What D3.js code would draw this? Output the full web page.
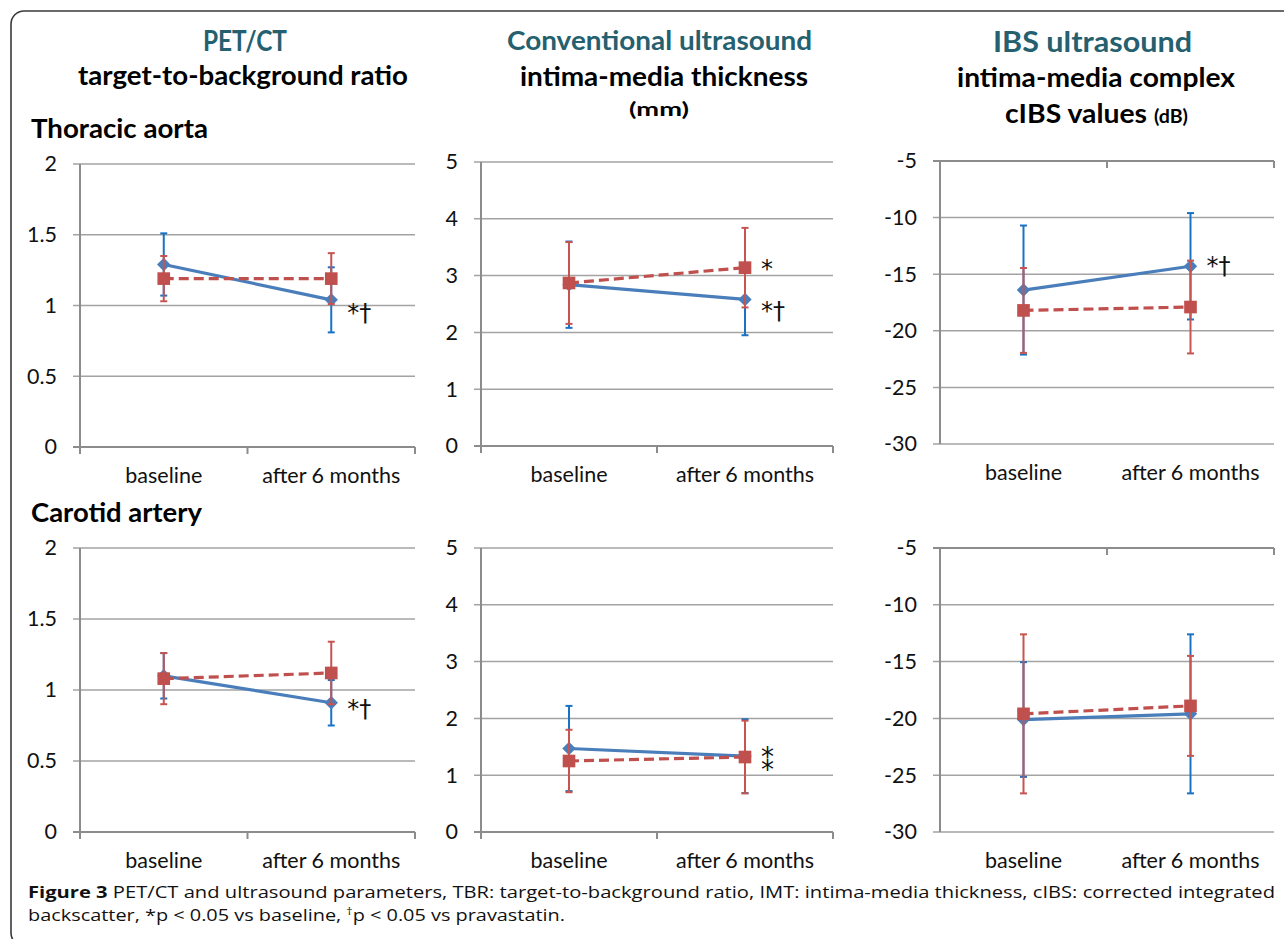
<!DOCTYPE html>
<html><head><meta charset="utf-8">
<script src="https://cdn.jsdelivr.net/npm/d3@7"></script>
<style>body{margin:0;background:#fff} svg{display:block}</style>
</head><body>
<svg id="c" width="1284" height="939"></svg>
<script>
// ---------------- DATA ----------------
const categories = ["baseline", "after 6 months"];

// PET/CT TBR, thoracic aorta
const tbrAortaBlue = [1.29, 1.04], tbrAortaBlueSD = [0.22, 0.23];
const tbrAortaRed  = [1.19, 1.19], tbrAortaRedSD  = [0.16, 0.18];
// IMT (mm), thoracic aorta
const imtAortaBlue = [2.84, 2.58], imtAortaBlueSD = [0.76, 0.63];
const imtAortaRed  = [2.87, 3.14], imtAortaRedSD  = [0.72, 0.70];
// cIBS (dB), thoracic aorta
const ibsAortaBlue = [-16.4, -14.3], ibsAortaBlueSD = [5.7, 4.7];
const ibsAortaRed  = [-18.2, -17.9], ibsAortaRedSD  = [3.75, 4.1];
// PET/CT TBR, carotid artery
const tbrCarotidBlue = [1.10, 0.91], tbrCarotidBlueSD = [0.16, 0.16];
const tbrCarotidRed  = [1.08, 1.12], tbrCarotidRedSD  = [0.18, 0.22];
// IMT (mm), carotid artery
const imtCarotidBlue = [1.47, 1.335], imtCarotidBlueSD = [0.75, 0.65];
const imtCarotidRed  = [1.25, 1.32], imtCarotidRedSD  = [0.55, 0.64];
// cIBS (dB), carotid artery
const ibsCarotidBlue = [-20.1, -19.6], ibsCarotidBlueSD = [5.05, 7.0];
const ibsCarotidRed  = [-19.6, -18.9], ibsCarotidRedSD  = [7.0, 4.4];

const ticksTBR = [0, 0.5, 1, 1.5, 2];
const ticksIMT = [0, 1, 2, 3, 4, 5];
const ticksIBS = [-30, -25, -20, -15, -10, -5];

// significance marks: [series, text]
const annTbrAorta   = [["blue", "*†"]];
const annImtAorta   = [["red", "*"], ["blue", "*†"]];
const annIbsAorta   = [["blue", "*†"]];
const annTbrCarotid = [["blue", "*†"]];
const annImtCarotid = [["red", "⁑"]];
const annIbsCarotid = [];

// ---------------- LAYOUT ----------------
const svg = d3.select("#c");
const FONT = "Lato, 'Open Sans', sans-serif";
const ANNFONT = "'DejaVu Sans', sans-serif";
const BLUE = "#4a7ebb", BLUE_ERR = "#1a72c4", RED = "#c0504d", RED_ERR = "#c65552";

const panels = [
  {blue: tbrAortaBlue, blueSD: tbrAortaBlueSD, red: tbrAortaRed, redSD: tbrAortaRedSD, ticks: ticksTBR,
   left: 80, right: 415, top: 164, bottom: 447, axisTop: false, ann: annTbrAorta, annDy: [21], annSize: [24]},
  {blue: imtAortaBlue, blueSD: imtAortaBlueSD, red: imtAortaRed, redSD: imtAortaRedSD, ticks: ticksIMT,
   left: 481, right: 833, top: 162, bottom: 446, axisTop: false, ann: annImtAorta, annDy: [9, 20], annSize: [24, 24]},
  {blue: ibsAortaBlue, blueSD: ibsAortaBlueSD, red: ibsAortaRed, redSD: ibsAortaRedSD, ticks: ticksIBS,
   left: 940, right: 1274, top: 161, bottom: 444, axisTop: true, ann: annIbsAorta, annDy: [8], annSize: [24]},
  {blue: tbrCarotidBlue, blueSD: tbrCarotidBlueSD, red: tbrCarotidRed, redSD: tbrCarotidRedSD, ticks: ticksTBR,
   left: 80, right: 415, top: 548, bottom: 832, axisTop: false, ann: annTbrCarotid, annDy: [14], annSize: [24]},
  {blue: imtCarotidBlue, blueSD: imtCarotidBlueSD, red: imtCarotidRed, redSD: imtCarotidRedSD, ticks: ticksIMT,
   left: 481, right: 833, top: 548, bottom: 832, axisTop: false, ann: annImtCarotid, annDy: [14], annSize: [26]},
  {blue: ibsCarotidBlue, blueSD: ibsCarotidBlueSD, red: ibsCarotidRed, redSD: ibsCarotidRedSD, ticks: ticksIBS,
   left: 940, right: 1274, top: 548, bottom: 832, axisTop: true, ann: annIbsCarotid, annDy: [], annSize: []}
];

// frame
svg.append("rect").attr("x", 11).attr("y", 11).attr("width", 1300).attr("height", 935)
  .attr("rx", 13).attr("fill", "none").attr("stroke", "#3a3a3a").attr("stroke-width", 1.6);

function drawPanel(p) {
  const g = svg.append("g");
  const x = d3.scaleBand().domain(categories).range([p.left, p.right]);
  const y = d3.scaleLinear().domain(d3.extent(p.ticks)).range([p.bottom, p.top]);
  const cx = c => x(c) + x.bandwidth() / 2;

  // gridlines
  g.selectAll("line.grid").data(p.ticks).join("line")
    .attr("x1", p.left - 7).attr("x2", p.right)
    .attr("y1", d => y(d)).attr("y2", d => y(d))
    .attr("stroke", "#a3a3a3").attr("stroke-width", 1.5);

  // y axis labels
  const ya = g.append("g").attr("transform", `translate(${p.left},0)`)
    .call(d3.axisLeft(y).tickValues(p.ticks).tickSize(0).tickPadding(23).tickFormat(d => String(d)));
  ya.select(".domain").remove();
  ya.selectAll("text").attr("font-family", FONT).attr("font-size", 21.5).attr("fill", "#111");

  // category axis
  const axY = p.axisTop ? p.top : p.bottom;
  const bounds = [p.left, p.left + x.bandwidth(), p.right];
  g.append("line").attr("x1", p.left - 7).attr("x2", p.right).attr("y1", axY).attr("y2", axY)
    .attr("stroke", "#8c8c8c").attr("stroke-width", 2);
  g.selectAll("line.xt").data(bounds).join("line")
    .attr("x1", d => d).attr("x2", d => d)
    .attr("y1", axY).attr("y2", axY + 7)
    .attr("stroke", "#8c8c8c").attr("stroke-width", 2);
  // y axis line
  g.append("line").attr("x1", p.left).attr("x2", p.left)
    .attr("y1", p.top).attr("y2", p.bottom + (p.axisTop ? 0 : 7))
    .attr("stroke", "#8c8c8c").attr("stroke-width", 2);

  const xa = g.append("g").attr("transform", `translate(0,${p.bottom})`)
    .call(d3.axisBottom(x).tickSize(0).tickPadding(21));
  xa.select(".domain").remove();
  xa.selectAll("text").attr("font-family", FONT).attr("font-size", 21.5).attr("fill", "#111");

  const series = [
    {key: "blue", m: p.blue, sd: p.blueSD, color: BLUE, err: BLUE_ERR, dash: null,
     sym: d3.symbol(d3.symbolSquare, 90)(), rot: 45},
    {key: "red", m: p.red, sd: p.redSD, color: RED, err: RED_ERR, dash: "10,5",
     sym: d3.symbol(d3.symbolSquare, 160)(), rot: 0}
  ];
  series.forEach(s => {
    const pts = categories.map((c, i) => ({c, v: s.m[i], sd: s.sd[i]}));
    // error bars
    const eb = g.append("g").attr("stroke", s.err).attr("stroke-width", 2);
    pts.forEach(d => {
      eb.append("line").attr("x1", cx(d.c)).attr("x2", cx(d.c))
        .attr("y1", y(d.v - d.sd)).attr("y2", y(d.v + d.sd));
      [d.v - d.sd, d.v + d.sd].forEach(v => {
        eb.append("line").attr("x1", cx(d.c) - 3.5).attr("x2", cx(d.c) + 3.5)
          .attr("y1", y(v)).attr("y2", y(v));
      });
    });
    // line
    g.append("path").datum(pts)
      .attr("d", d3.line().x(d => cx(d.c)).y(d => y(d.v)))
      .attr("fill", "none").attr("stroke", s.color).attr("stroke-width", 3.2)
      .attr("stroke-dasharray", s.dash);
    // markers
    g.selectAll(null).data(pts).join("path")
      .attr("d", s.sym)
      .attr("transform", d => `translate(${cx(d.c)},${y(d.v)}) rotate(${s.rot})`)
      .attr("fill", s.color);
  });

  // significance annotations
  p.ann.forEach((a, i) => {
    const s = a[0] === "blue" ? p.blue : p.red;
    const c = categories[1];
    g.append("text").attr("x", cx(c) + 16).attr("y", y(s[1]) + p.annDy[i])
      .attr("font-family", ANNFONT).attr("font-size", p.annSize[i]).attr("fill", "#111").text(a[1]);
  });
}
panels.forEach(drawPanel);

// ---------------- TITLES ----------------
const TEAL = "#25606f";
function title(txt, x, yy, size, len, color, anchor) {
  const t = svg.append("text").attr("x", x).attr("y", yy).attr("font-family", FONT)
    .attr("font-weight", "bold").attr("font-size", size).attr("fill", color || "#000")
    .attr("text-anchor", anchor || "middle").text(txt);
  if (len) t.attr("textLength", len).attr("lengthAdjust", "spacingAndGlyphs");
  return t;
}
title("PET/CT", 245, 51, 28, 84, TEAL);
title("target-to-background ratio", 243, 85, 27.5, 330);
title("Thoracic aorta", 31, 138, 27.5, 177, "#000", "start");
title("Conventional ultrasound", 659.5, 50, 27.5, 305, TEAL);
title("intima-media thickness", 664, 86, 27.5, 288);
title("(mm)", 659, 116, 18, 60);
title("IBS ultrasound", 1092.5, 52, 29, 199, TEAL);
title("intima-media complex", 1096, 87, 27.5, 278);
const cibs = title("", 1096.5, 123, 27.5, 183);
cibs.append("tspan").text("cIBS values ");
cibs.append("tspan").attr("font-size", 19).text("(dB)");
title("Carotid artery", 31, 522, 27.5, 171, "#000", "start");

// ---------------- CAPTION ----------------
const CF = "'Open Sans', 'Noto Sans', sans-serif";
const cap1 = svg.append("text").attr("x", 28).attr("y", 898).attr("font-family", CF)
  .attr("font-size", 16).attr("fill", "#111").attr("textLength", 1247).attr("lengthAdjust", "spacingAndGlyphs");
cap1.append("tspan").attr("font-weight", "bold").text("Figure 3");
cap1.append("tspan").text(" PET/CT and ultrasound parameters, TBR: target-to-background ratio, IMT: intima-media thickness, cIBS: corrected integrated");
const cap2 = svg.append("text").attr("x", 28).attr("y", 921).attr("font-family", CF)
  .attr("font-size", 16).attr("fill", "#111").attr("textLength", 537).attr("lengthAdjust", "spacingAndGlyphs");
cap2.append("tspan").text("backscatter, *p < 0.05 vs baseline, ");
cap2.append("tspan").attr("font-size", 10).attr("dy", -6).text("†");
cap2.append("tspan").attr("dy", 6).text("p < 0.05 vs pravastatin.");
</script>
</body></html>
